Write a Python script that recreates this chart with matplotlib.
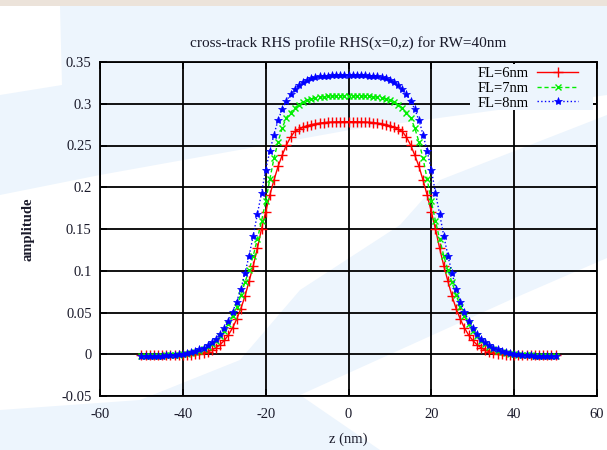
import numpy as np
import matplotlib
matplotlib.use('Agg')
import matplotlib.pyplot as plt
from matplotlib.patches import Polygon, Rectangle
from matplotlib.ticker import FuncFormatter, MultipleLocator

plt.rcParams['font.family'] = ['Liberation Serif', 'DejaVu Serif']
plt.rcParams['axes.unicode_minus'] = False

# cross-track position z (nm), -50 .. 50 step 1
z = list(range(-50, 51))

fl6 = [-0.0012, -0.0012, -0.0012, -0.0012, -0.0012, -0.0012, -0.0012, -0.0012, -0.0012, -0.0011,
       -0.0010, -0.0008, -0.0005, -0.0001, 0.0006, 0.0016, 0.0030, 0.0050, 0.0078, 0.0115,
       0.0165, 0.0230, 0.0315, 0.0420, 0.0545, 0.0695, 0.0875, 0.1060, 0.1270, 0.1500,
       0.1705, 0.1905, 0.2085, 0.2250, 0.2385, 0.2505, 0.2598, 0.2668, 0.2693, 0.2718,
       0.2737, 0.2750, 0.2760, 0.2768, 0.2774, 0.2778, 0.2781, 0.2783, 0.2784, 0.2785,
       0.2785,
       0.2785, 0.2784, 0.2783, 0.2781, 0.2778, 0.2774, 0.2768, 0.2760, 0.2750, 0.2737,
       0.2718, 0.2693, 0.2668, 0.2598, 0.2505, 0.2385, 0.2250, 0.2085, 0.1905, 0.1705,
       0.1500, 0.1270, 0.1060, 0.0875, 0.0695, 0.0545, 0.0420, 0.0315, 0.0230, 0.0165,
       0.0115, 0.0078, 0.0050, 0.0030, 0.0016, 0.0006, -0.0001, -0.0005, -0.0008, -0.0010,
       -0.0011, -0.0012, -0.0012, -0.0012, -0.0012, -0.0012, -0.0012, -0.0012, -0.0012, -0.0012]

fl7 = [-0.0016, -0.0016, -0.0016, -0.0016, -0.0016, -0.0015, -0.0014, -0.0012, -0.0010, -0.0007,
       -0.0002, 0.0005, 0.0014, 0.0026, 0.0041, 0.0061, 0.0087, 0.0120, 0.0162, 0.0215,
       0.0280, 0.0360, 0.0460, 0.0570, 0.0710, 0.0860, 0.1010, 0.1180, 0.1380, 0.1595,
       0.1830, 0.2095, 0.2345, 0.2545, 0.2710, 0.2835, 0.2895, 0.2950, 0.2990, 0.3020,
       0.3042, 0.3058, 0.3070, 0.3078, 0.3084, 0.3088, 0.3091, 0.3093, 0.3094, 0.3095,
       0.3095,
       0.3095, 0.3094, 0.3093, 0.3091, 0.3088, 0.3084, 0.3078, 0.3070, 0.3058, 0.3042,
       0.3020, 0.2990, 0.2950, 0.2895, 0.2835, 0.2710, 0.2545, 0.2345, 0.2095, 0.1830,
       0.1595, 0.1380, 0.1180, 0.1010, 0.0860, 0.0710, 0.0570, 0.0460, 0.0360, 0.0280,
       0.0215, 0.0162, 0.0120, 0.0087, 0.0061, 0.0041, 0.0026, 0.0014, 0.0005, -0.0002,
       -0.0007, -0.0010, -0.0012, -0.0014, -0.0015, -0.0016, -0.0016, -0.0016, -0.0016, -0.0016]

fl8 = [-0.0020, -0.0020, -0.0020, -0.0019, -0.0018, -0.0016, -0.0014, -0.0011, -0.0007, -0.0002,
       0.0005, 0.0014, 0.0025, 0.0039, 0.0057, 0.0080, 0.0108, 0.0142, 0.0188, 0.0245,
       0.0315, 0.0400, 0.0505, 0.0630, 0.0780, 0.0970, 0.1180, 0.1420, 0.1680, 0.1930,
       0.2210, 0.2430, 0.2630, 0.2805, 0.2935, 0.3035, 0.3112, 0.3177, 0.3226, 0.3262,
       0.3288, 0.3306, 0.3319, 0.3328, 0.3334, 0.3338, 0.3341, 0.3343, 0.3344, 0.3345,
       0.3345,
       0.3345, 0.3344, 0.3343, 0.3341, 0.3338, 0.3334, 0.3328, 0.3319, 0.3306, 0.3288,
       0.3262, 0.3226, 0.3177, 0.3112, 0.3035, 0.2935, 0.2805, 0.2630, 0.2430, 0.2210,
       0.1930, 0.1680, 0.1420, 0.1180, 0.0970, 0.0780, 0.0630, 0.0505, 0.0400, 0.0315,
       0.0245, 0.0188, 0.0142, 0.0108, 0.0080, 0.0057, 0.0039, 0.0025, 0.0014, 0.0005,
       -0.0002, -0.0007, -0.0011, -0.0014, -0.0016, -0.0018, -0.0019, -0.0020, -0.0020, -0.0020]

labels = ['FL=6nm', 'FL=7nm', 'FL=8nm']

bg = '#edf5fd'
fig = plt.figure(figsize=(6.07, 4.5), dpi=100, facecolor=bg)

# faint watermark shapes behind the plot (pixel coords -> figure coords)
def px(pts):
    return [(x / 607.0, 1 - y / 450.0) for x, y in pts]

shapes = [
    [(0, 195), (100, 175), (350, 130), (520, 107), (607, 95), (607, 115), (440, 180),
     (400, 225), (300, 290), (240, 360), (140, 400), (0, 410)],
    [(380, 450), (300, 395), (510, 300), (607, 258), (607, 450)],
    [(0, 6), (60, 6), (62, 85), (0, 95)],
]
for s in shapes:
    fig.add_artist(Polygon(px(s), closed=True, transform=fig.transFigure,
                           facecolor='white', edgecolor='none', zorder=-2))
fig.add_artist(Rectangle((0, 1 - 6 / 450.0), 1, 6 / 450.0, transform=fig.transFigure,
                         facecolor='#ece3da', edgecolor='none', zorder=-1))

ax = fig.add_axes([100 / 607.0, 1 - 396 / 450.0, 497 / 607.0, 334 / 450.0])
ax.patch.set_alpha(0)

ax.plot(z, fl6, color='red', lw=1, ls='-', marker='+', ms=6.5, mew=1, label=labels[0])
ax.plot(z, fl7, color='#00ee00', lw=1, ls='--', dashes=(3, 2), marker='x', ms=4.5, mew=1,
        label=labels[1])
ax.plot(z, fl8, color='blue', lw=1, ls=':', marker='*', ms=6, mew=0.5, label=labels[2])

ax.set_xlim(-60, 60)
ax.set_ylim(-0.05, 0.35)
ax.xaxis.set_major_locator(MultipleLocator(20))
ax.yaxis.set_major_locator(MultipleLocator(0.05))
ax.yaxis.set_major_formatter(FuncFormatter(lambda v, p: '%g' % round(v, 4)))
ax.xaxis.set_major_formatter(FuncFormatter(lambda v, p: '%g' % v))

ax.grid(True, color='black', lw=1.3, ls='-')
ax.set_axisbelow(True)
for s in ax.spines.values():
    s.set_linewidth(1.3)
ax.tick_params(direction='in', length=5, width=1.2, top=True, right=True,
               labelsize=10.5, labelcolor='#1a1a2a')
ax.tick_params(axis='x', pad=9)
ax.tick_params(axis='y', pad=6)

ax.set_title('cross-track RHS profile RHS(x=0,z) for RW=40nm', fontsize=11, pad=11,
             color='#1a1a2a')
ax.set_xlabel('z (nm)', fontsize=10.5, labelpad=8, color='#1a1a2a')
ax.set_ylabel('amplitude', fontsize=10.5, labelpad=19, color='#1a1a2a', fontweight='bold')

# key box (gnuplot style: blank area over the grid)
ax.add_artist(Rectangle(((470 - 100) / 497.0, (396 - 110) / 334.0), 123 / 497.0, 46 / 334.0,
                        transform=ax.transAxes, facecolor=bg, edgecolor='none', zorder=1))
leg = ax.legend(loc='upper right', bbox_to_anchor=((578 - 100) / 497.0, (396 - 67) / 334.0),
                markerfirst=False, fontsize=10.5, handlelength=2.8,
                labelspacing=0.1, borderpad=0, borderaxespad=0, handletextpad=0.6,
                frameon=False)

plt.savefig('out.png', dpi=100, facecolor=bg)
